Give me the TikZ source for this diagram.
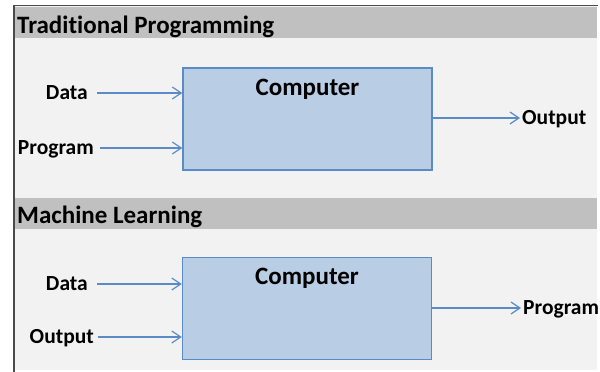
\documentclass[tikz,border=0pt]{standalone}
\usepackage{fontspec}
\setmainfont[Ligatures=NoCommon]{Carlito}
\usetikzlibrary{arrows.meta, positioning}

\definecolor{bandgray}{HTML}{C0C0C0}
\definecolor{panelgray}{HTML}{F2F2F2}
\definecolor{boxblue}{HTML}{B9CDE5}
\definecolor{edgeblue}{HTML}{5B8BC7}
\definecolor{framegray}{HTML}{4A4A4A}

\begin{document}
\begin{tikzpicture}[x=1pt, y=-1pt,
	cpu/.style = {draw=edgeblue, fill=boxblue, line width=1.3pt, minimum width=249pt, minimum height=102pt, inner sep=0pt},
	cpuname/.style = {font=\bfseries\fontsize{25}{29}\selectfont, anchor=base, inner sep=0pt},
	head/.style = {font=\bfseries\fontsize{25}{29}\selectfont, anchor=base west, inner sep=0pt},
	io/.style = {font=\bfseries\fontsize{21.5}{25}\selectfont, inner sep=0pt, text height=13pt, text depth=0pt},
	flow/.style = {draw=edgeblue, line width=1.2pt, -{Straight Barb[length=9pt, width=12pt]}}]
	\useasboundingbox (0,0) rectangle (600,372);
	\fill[panelgray] (14,6) rectangle (597,370);
	\fill[bandgray] (15,7) rectangle (597,38);
	\fill[bandgray] (15,198) rectangle (597,229);
	\draw[framegray, line width=1.5pt] (14,372) -- (14,5.5) -- (598,5.5);

	\node[head] (tp) at (17,33) {Traditional Programming};
	\node[cpu] (cpu1) at (307.5,119) {};
	\node[cpuname] (cpu1name) at ([yshift=-28pt]cpu1.north) {Computer};
	\node[io, anchor=east] (data1) at (88,93) {Data};
	\node[io, anchor=east] (prog1) at (94,148) {Program};
	\node[io, anchor=west] (out1) at (522,118) {Output};

	\node[head] (ml) at (17,223) {Machine Learning};
	\node[cpu] (cpu2) at (307,308.5) {};
	\node[cpuname] (cpu2name) at ([yshift=-28pt]cpu2.north) {Computer};
	\node[io, anchor=east] (data2) at (88,284) {Data};
	\node[io, anchor=east] (out2) at (94,337) {Output};
	\node[io, anchor=west] (prog2) at (523,308) {Program};

	\draw[flow, shorten <=9pt] (data1) -- (data1 -| cpu1.west);
	\draw[flow, shorten <=6pt] (prog1) -- (prog1 -| cpu1.west);
	\draw[flow, shorten >=2pt] (cpu1.east |- out1) -- (out1);
	\draw[flow, shorten <=9pt] (data2) -- (data2 -| cpu2.west);
	\draw[flow, shorten <=4pt] (out2) -- (out2 -| cpu2.west);
	\draw[flow, shorten >=2pt] (cpu2.east |- prog2) -- (prog2);
\end{tikzpicture}
\end{document}
